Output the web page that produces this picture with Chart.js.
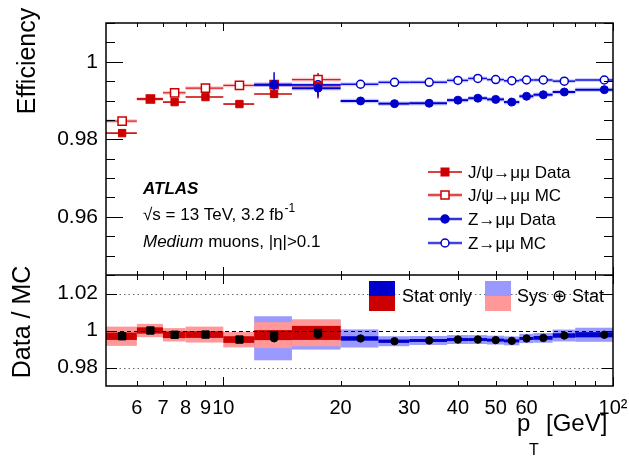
<!DOCTYPE html>
<html>
<head>
<meta charset="utf-8">
<script src="https://cdn.jsdelivr.net/npm/chart.js@4.4.0/dist/chart.umd.min.js"></script>
<style>
  html, body { margin: 0; padding: 0; background: #fff; }
  #wrap { width: 629px; height: 461px; }
</style>
</head>
<body>
<div id="wrap"><canvas id="myChart" width="629" height="461"></canvas></div>
<script>
// J/psi -> mumu bins
var jpsiLo = [5, 6, 7, 8, 10, 12, 15];
var jpsiHi = [6, 7, 8, 10, 12, 15, 20];
var jpsiPt = [5.5, 6.5, 7.5, 9, 11, 13.5, 17.5];
var jpsiData = [0.9816, 0.9904, 0.9896, 0.9909, 0.9891, 0.9917, 0.9938];
var jpsiDataErr = [0.0005, 0.0004, 0.0004, 0.0004, 0.0005, 0.0008, 0.0033];
var jpsiMC = [0.9847, 0.9904, 0.9920, 0.9932, 0.9939, 0.9941, 0.9954];
var jpsiRatio = [0.9969, 1.0000, 0.9977, 0.9978, 0.9951, 0.9975, 0.9987];
var jpsiStat = [0.0020, 0.0017, 0.0018, 0.0018, 0.0018, 0.0027, 0.0038];
var jpsiTot = [0.0052, 0.0036, 0.0036, 0.0043, 0.0042, 0.0070, 0.0072];

// Z -> mumu bins
var zLo = [12, 15, 20, 25, 30, 37.5, 42.5, 47.5, 52.5, 57.5, 62.5, 70, 80];
var zHi = [15, 20, 25, 30, 37.5, 42.5, 47.5, 52.5, 57.5, 62.5, 70, 80, 110];
var zPt = [13.5, 17.5, 22.5, 27.5, 33.75, 40, 45, 50, 55, 60, 66.25, 75, 95];
var zData = [0.9941, 0.9932, 0.9899, 0.9892, 0.9893, 0.9901, 0.9906, 0.9903, 0.9896, 0.9911, 0.9915, 0.9922, 0.9928];
var zDataErr = [0.0032, 0.0022, 0.0003, 0.0002, 0.0002, 0.0002, 0.0002, 0.0002, 0.0002, 0.0002, 0.0002, 0.0002, 0.0003];
var zMC = [0.9941, 0.9941, 0.9942, 0.9947, 0.9947, 0.9952, 0.9957, 0.9954, 0.9951, 0.9953, 0.9953, 0.9950, 0.9953];
var zRatio = [0.9958, 0.9978, 0.9957, 0.9942, 0.9946, 0.9951, 0.9951, 0.9948, 0.9944, 0.9957, 0.9960, 0.9973, 0.9977];
var zStat = [0.0040, 0.0030, 0.0012, 0.0009, 0.0008, 0.0008, 0.0008, 0.0008, 0.0008, 0.0008, 0.0010, 0.0012, 0.0014];
var zTot = [0.0119, 0.0081, 0.0049, 0.0027, 0.0024, 0.0024, 0.0024, 0.0024, 0.0024, 0.0025, 0.0026, 0.0032, 0.0038];

// axes
var xTicks = [6, 7, 8, 9, 10, 20, 30, 40, 50, 60, 70, 80, 90, 100];
var xTickLabels = ['6', '7', '8', '9', '10', '20', '30', '40', '50', '60', '', '', '', '10\u00B2'];
var effTicks = [0.96, 0.98, 1];
var effTickLabels = ['0.96', '0.98', '1'];
var ratioTicks = [0.98, 1, 1.02];
var ratioTickLabels = ['0.98', '1', '1.02'];

var FONT = "'Liberation Sans', Arial, Helvetica, 'DejaVu Sans', sans-serif";
var RED = '#cc0000', BLUE = '#0000cc', LRED = '#ff9999', LBLUE = '#9999ff';

function pts(xv, yv) {
  return xv.map(function(x, i) { return { x: x, y: yv[i] }; });
}

function hline(ctx, x0, x1, y) {
  ctx.beginPath(); ctx.moveTo(x0, y); ctx.lineTo(x1, y); ctx.stroke();
}
function vline(ctx, x, y0, y1) {
  ctx.beginPath(); ctx.moveTo(x, y0); ctx.lineTo(x, y1); ctx.stroke();
}

function drawBars(ctx, xs, ys, lo, hi, ptv, val, err, color, width, halo) {
  for (var i = 0; i < val.length; i++) {
    var x0 = xs.getPixelForValue(lo[i]), x1 = xs.getPixelForValue(hi[i]);
    var y = ys.getPixelForValue(val[i]);
    if (halo) {
      ctx.strokeStyle = halo; ctx.lineWidth = width + 2.5;
      hline(ctx, x0, x1, y);
    }
    ctx.strokeStyle = color; ctx.lineWidth = width;
    hline(ctx, x0, x1, y);
    if (err) {
      var xp = xs.getPixelForValue(ptv[i]);
      ctx.lineWidth = 1.5;
      vline(ctx, xp, ys.getPixelForValue(val[i] + err[i]), ys.getPixelForValue(val[i] - err[i]));
    }
  }
}

function drawBands(ctx, xs, ys, lo, hi, c, hw, color) {
  ctx.fillStyle = color;
  for (var i = 0; i < c.length; i++) {
    var x0 = xs.getPixelForValue(lo[i]), x1 = xs.getPixelForValue(hi[i]);
    var y0 = ys.getPixelForValue(c[i] + hw[i]), y1 = ys.getPixelForValue(c[i] - hw[i]);
    ctx.fillRect(x0, y0, x1 - x0, y1 - y0);
  }
}

function marker(ctx, style, x, y, size, fill, stroke) {
  ctx.beginPath();
  if (style === 'rect') ctx.rect(x - size / 2, y - size / 2, size, size);
  else ctx.arc(x, y, size / 2, 0, Math.PI * 2);
  ctx.fillStyle = fill; ctx.fill();
  ctx.strokeStyle = stroke; ctx.lineWidth = 1.5; ctx.stroke();
}

var atlasStyle = {
  id: 'atlasStyle',
  beforeDatasetsDraw: function(chart) {
    var ctx = chart.ctx;
    var xs = chart.scales.x, ye = chart.scales.yEff, yr = chart.scales.yRatio;

    // ratio panel
    ctx.save();
    ctx.beginPath();
    ctx.rect(xs.left, yr.top, xs.right - xs.left, yr.bottom - yr.top);
    ctx.clip();
    ctx.strokeStyle = '#666'; ctx.lineWidth = 1; ctx.setLineDash([1.5, 3]);
    ratioTicks.forEach(function(v) {
      if (v !== 1) hline(ctx, xs.left, xs.right, Math.round(yr.getPixelForValue(v)) + 0.5);
    });
    ctx.setLineDash([]);
    drawBands(ctx, xs, yr, zLo, zHi, zRatio, zTot, LBLUE);
    drawBands(ctx, xs, yr, zLo, zHi, zRatio, zStat, BLUE);
    drawBands(ctx, xs, yr, jpsiLo, jpsiHi, jpsiRatio, jpsiTot, LRED);
    drawBands(ctx, xs, yr, jpsiLo, jpsiHi, jpsiRatio, jpsiStat, RED);
    ctx.strokeStyle = '#000'; ctx.lineWidth = 1; ctx.setLineDash([4, 3]);
    hline(ctx, xs.left, xs.right, Math.round(yr.getPixelForValue(1)) + 0.5);
    ctx.setLineDash([]);
    ctx.restore();

    // efficiency panel
    ctx.save();
    ctx.beginPath();
    ctx.rect(xs.left, ye.top, xs.right - xs.left, ye.bottom - ye.top);
    ctx.clip();
    drawBars(ctx, xs, ye, jpsiLo, jpsiHi, jpsiPt, jpsiMC, null, '#d42020', 1.2, 'rgba(255,130,130,0.45)');
    drawBars(ctx, xs, ye, zLo, zHi, zPt, zMC, null, '#1010dd', 1.5, 'rgba(140,140,255,0.4)');
    drawBars(ctx, xs, ye, jpsiLo, jpsiHi, jpsiPt, jpsiData, jpsiDataErr, RED, 1.6, null);
    drawBars(ctx, xs, ye, zLo, zHi, zPt, zData, zDataErr, BLUE, 2, 'rgba(140,140,255,0.45)');
    ctx.restore();
  },
  afterDraw: function(chart) {
    var ctx = chart.ctx;
    var xs = chart.scales.x, ye = chart.scales.yEff, yr = chart.scales.yRatio;
    var L = xs.left, R = xs.right;
    ctx.save();
    ctx.strokeStyle = '#000';
    ctx.lineWidth = 1.5;
    ctx.strokeRect(L, ye.top, R - L, yr.bottom - ye.top);
    hline(ctx, L, R, ye.bottom);

    // x ticks on both panels
    ctx.lineWidth = 1;
    xTicks.forEach(function(v) {
      var x = Math.round(xs.getPixelForValue(v)) + 0.5;
      var big = (v === 10 || v === 100);
      var lt = big ? 8 : 4, lb = big ? 9 : 5;
      vline(ctx, x, ye.top, ye.top + lt);
      vline(ctx, x, ye.bottom, ye.bottom - lt);
      vline(ctx, x, yr.top, yr.top + lb);
      vline(ctx, x, yr.bottom, yr.bottom - lb);
    });
    // y ticks, efficiency panel (0.005 steps, long every 0.02)
    for (var k = 189; k <= 202; k++) {
      var v = k * 0.005;
      var y = Math.round(ye.getPixelForValue(v)) + 0.5;
      var len = (k % 4 === 0) ? 17 : 9;
      hline(ctx, L, L + len, y);
      hline(ctx, R - len, R, y);
    }
    // y ticks, ratio panel
    ratioTicks.forEach(function(v) {
      var y = Math.round(yr.getPixelForValue(v)) + 0.5;
      hline(ctx, L, L + 11, y);
      hline(ctx, R - 11, R, y);
    });

    ctx.fillStyle = '#000';
    // axis titles
    ctx.font = '25px ' + FONT;
    ctx.textAlign = 'center';
    ctx.textBaseline = 'alphabetic';
    ctx.save(); ctx.translate(35, 61); ctx.rotate(-Math.PI / 2); ctx.fillText('Efficiency', 0, 0); ctx.restore();
    ctx.save(); ctx.translate(30, 322); ctx.rotate(-Math.PI / 2); ctx.fillText('Data / MC', 0, 0); ctx.restore();

    ctx.textAlign = 'left';
    ctx.font = '24px ' + FONT;
    ctx.fillText('p', 517, 431);
    ctx.font = '16px ' + FONT;
    ctx.fillText('T', 529, 455);
    ctx.font = '24px ' + FONT;
    ctx.fillText('[GeV]', 546, 431);

    // ATLAS label
    ctx.font = 'italic bold 17px ' + FONT;
    ctx.fillText('ATLAS', 143, 194);
    ctx.font = '17px ' + FONT;
    var s1 = '\u221As = 13 TeV, 3.2 fb';
    ctx.fillText(s1, 143, 220);
    var w1 = ctx.measureText(s1).width;
    ctx.font = '12px ' + FONT;
    ctx.fillText('-1', 143 + w1 + 1, 212);
    ctx.font = 'italic 17px ' + FONT;
    ctx.fillText('Medium', 143, 247);
    var w2 = ctx.measureText('Medium').width;
    ctx.font = '17px ' + FONT;
    ctx.fillText(' muons, |\u03B7|>0.1', 143 + w2, 247);

    // efficiency legend
    var rows = [
      { y: 172, txt: 'J/\u03C8\u2192\u03BC\u03BC Data', line: RED, halo: null, st: 'rect', size: 7.5, fill: RED, stroke: RED },
      { y: 195, txt: 'J/\u03C8\u2192\u03BC\u03BC MC', line: '#d42020', halo: 'rgba(255,130,130,0.45)', st: 'rect', size: 8, fill: '#fff', stroke: RED },
      { y: 219, txt: 'Z\u2192\u03BC\u03BC Data', line: BLUE, halo: 'rgba(140,140,255,0.45)', st: 'circle', size: 8, fill: BLUE, stroke: BLUE },
      { y: 243, txt: 'Z\u2192\u03BC\u03BC MC', line: '#1010dd', halo: 'rgba(140,140,255,0.4)', st: 'circle', size: 8, fill: '#fff', stroke: BLUE }
    ];
    ctx.textBaseline = 'middle';
    rows.forEach(function(r) {
      if (r.halo) { ctx.strokeStyle = r.halo; ctx.lineWidth = 4; hline(ctx, 428, 462, r.y); }
      ctx.strokeStyle = r.line; ctx.lineWidth = 1.5; hline(ctx, 428, 462, r.y);
      marker(ctx, r.st, 445, r.y, r.size, r.fill, r.stroke);
      ctx.fillStyle = '#000';
      ctx.font = '17px ' + FONT;
      ctx.fillText(r.txt, 468, r.y + 1);
    });

    // ratio legend
    ctx.fillStyle = BLUE; ctx.fillRect(369, 281, 26, 15);
    ctx.fillStyle = RED; ctx.fillRect(369, 296, 26, 15);
    ctx.fillStyle = LBLUE; ctx.fillRect(485, 281, 26, 15);
    ctx.fillStyle = LRED; ctx.fillRect(485, 296, 26, 15);
    ctx.fillStyle = '#000';
    ctx.font = '18px ' + FONT;
    ctx.fillText('Stat only', 402, 297);
    ctx.fillText('Sys \u2295 Stat', 517, 297);
    ctx.restore();
  }
};

var ctx = document.getElementById('myChart');
var myChart = new Chart(ctx, {
  type: 'scatter',
  data: {
    datasets: [
      { label: 'Z Data', data: pts(zPt, zData), yAxisID: 'yEff', pointStyle: 'circle', pointRadius: 4,
        backgroundColor: BLUE, borderColor: BLUE, pointBorderWidth: 1 },
      { label: 'J/psi Data', data: pts(jpsiPt, jpsiData), yAxisID: 'yEff', pointStyle: 'rect', pointRadius: 5.2,
        backgroundColor: RED, borderColor: RED, pointBorderWidth: 1 },
      { label: 'Z MC', data: pts(zPt, zMC), yAxisID: 'yEff', pointStyle: 'circle', pointRadius: 4,
        backgroundColor: '#fff', borderColor: BLUE, pointBorderWidth: 1.5 },
      { label: 'J/psi MC', data: pts(jpsiPt, jpsiMC), yAxisID: 'yEff', pointStyle: 'rect', pointRadius: 5.8,
        backgroundColor: '#fff', borderColor: RED, pointBorderWidth: 1.5 },
      { label: 'J/psi ratio', data: pts(jpsiPt, jpsiRatio), yAxisID: 'yRatio', pointStyle: 'rect', pointRadius: 5.2,
        backgroundColor: '#000', borderColor: '#000', pointBorderWidth: 1 },
      { label: 'Z ratio', data: pts(zPt, zRatio), yAxisID: 'yRatio', pointStyle: 'circle', pointRadius: 3.7,
        backgroundColor: '#000', borderColor: '#000', pointBorderWidth: 1 }
    ]
  },
  options: {
    responsive: false,
    animation: false,
    events: [],
    layout: { padding: { left: 0, right: 16, top: 23, bottom: 0 } },
    plugins: { legend: { display: false }, tooltip: { enabled: false } },
    scales: {
      x: {
        type: 'logarithmic', position: 'bottom', min: 5, max: 100,
        afterBuildTicks: function(s) { s.ticks = xTicks.map(function(v) { return { value: v }; }); },
        afterFit: function(s) { s.height = 75; s.paddingLeft = 0; s.paddingRight = 0; },
        grid: { display: false, drawTicks: false },
        border: { display: false },
        ticks: {
          autoSkip: false, maxRotation: 0, padding: 10, color: '#000',
          font: { family: FONT, size: 20 },
          callback: function(value, index) { return xTickLabels[index]; }
        }
      },
      yRatio: {
        type: 'linear', position: 'left', stack: 'panels', stackWeight: 111, min: 0.97, max: 1.03,
        afterBuildTicks: function(s) { s.ticks = ratioTicks.map(function(v) { return { value: v }; }); },
        afterFit: function(s) { s.width = 106; s.paddingTop = 0; s.paddingBottom = 0; },
        grid: { display: false, drawTicks: false },
        border: { display: false },
        ticks: {
          padding: 8, color: '#000', font: { family: FONT, size: 21 },
          callback: function(value, index) { return ratioTickLabels[index]; }
        }
      },
      yEff: {
        type: 'linear', position: 'left', stack: 'panels', stackWeight: 252, min: 0.945, max: 1.01,
        afterBuildTicks: function(s) { s.ticks = effTicks.map(function(v) { return { value: v }; }); },
        afterFit: function(s) { s.width = 106; s.paddingTop = 0; s.paddingBottom = 0; },
        grid: { display: false, drawTicks: false },
        border: { display: false },
        ticks: {
          padding: 8, color: '#000', font: { family: FONT, size: 21 },
          callback: function(value, index) { return effTickLabels[index]; }
        }
      }
    }
  },
  plugins: [atlasStyle]
});
</script>
</body>
</html>
